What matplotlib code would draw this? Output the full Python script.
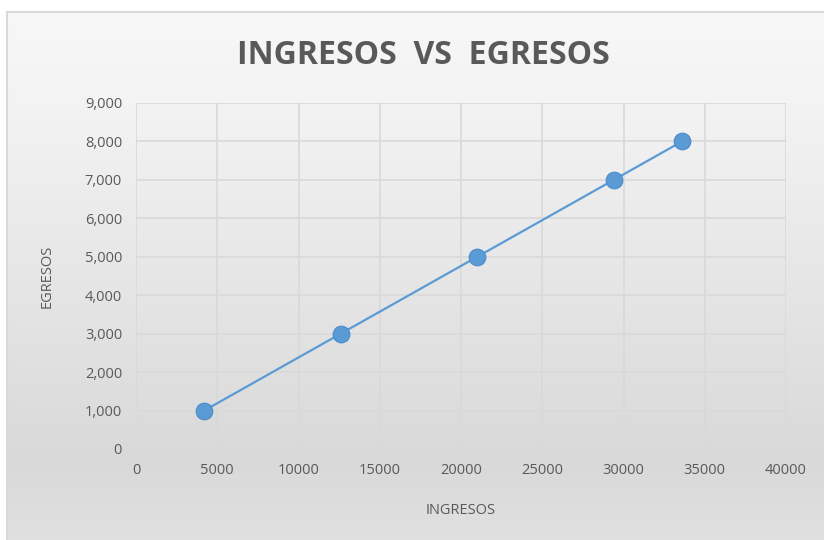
import matplotlib.pyplot as plt
import numpy as np
from matplotlib.ticker import FuncFormatter, MultipleLocator

ingresos = [4200, 12600, 21000, 29400, 33600]
egresos = [1000, 3000, 5000, 7000, 8000]

plt.rcParams['font.family'] = ['Open Sans', 'DejaVu Sans']
gray = '#595959'

fig = plt.figure(figsize=(8.24, 5.40), dpi=100)
fig.patch.set_facecolor('white')

# chart area background with a vertical gradient
bg = fig.add_axes([7/824, 0, 1 - 7/824, 1 - 12/540], zorder=-10)
t = np.linspace(0, 1, 256)
shade = np.interp(t, [0, 0.2, 0.85, 1.0], [0.97, 0.95, 0.85, 0.88])
img = np.repeat(shade[:, None], 2, axis=1)
bg.imshow(np.dstack([img, img, img]), aspect='auto', extent=[0, 1, 1, 0])
bg.set_xlim(0, 1)
bg.set_ylim(1, 0)
bg.set_xticks([])
bg.set_yticks([])
for s in ['top', 'left']:
    bg.spines[s].set_color('#d9d9d9')
    bg.spines[s].set_linewidth(1.5)
for s in ['right', 'bottom']:
    bg.spines[s].set_visible(False)

ax = fig.add_axes([136/824, 1 - 449/540, 650/824, 346/540])
ax.patch.set_alpha(0)
ax.plot(ingresos, egresos, color='#5b9bd5', lw=1.6, marker='o', ms=12,
        markerfacecolor='#5b9bd5', markeredgecolor='#4a8ccc', markeredgewidth=0.8, zorder=3)

ax.set_xlim(0, 40000)
ax.set_ylim(0, 9000)
ax.xaxis.set_major_locator(MultipleLocator(5000))
ax.yaxis.set_major_locator(MultipleLocator(1000))
ax.yaxis.set_major_formatter(FuncFormatter(lambda v, p: f'{int(v):,}'))
ax.grid(True, color='#d9d9d9', lw=1.2)
ax.set_axisbelow(True)
for s in ax.spines.values():
    s.set_visible(False)
ax.tick_params(length=0, colors=gray, labelsize=10.5, pad=10)

ax.set_xlabel('INGRESOS', color=gray, fontsize=10.5, labelpad=18)
ax.set_ylabel('EGRESOS', color=gray, fontsize=10.5, labelpad=22)
fig.text(423/824, 1 - 55/540, 'INGRESOS  VS  EGRESOS', ha='center', va='center',
         fontsize=23, fontweight='bold', color=gray)

fig.savefig('out.png', dpi=100)
